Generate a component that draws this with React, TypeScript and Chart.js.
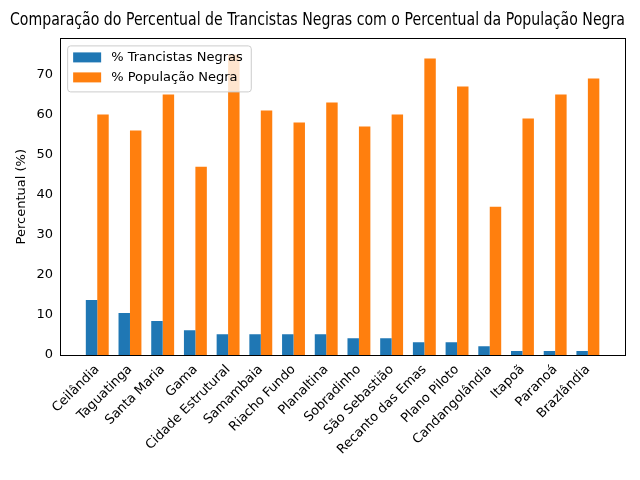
import React, { useEffect, useRef } from "react";
import { Chart, registerables } from "chart.js";
Chart.register(...registerables);

const categories = ["Ceilândia","Taguatinga","Santa Maria","Gama","Cidade Estrutural","Samambaia","Riacho Fundo","Planaltina","Sobradinho","São Sebastião","Recanto das Emas","Plano Piloto","Candangolândia","Itapoã","Paranoá","Brazlândia"];
const trancistas = [13.7,10.5,8.5,6.2,5.2,5.2,5.2,5.2,4.2,4.2,3.2,3.2,2.2,1.0,1.0,1.0];
const populacao = [60,56,65,47,75,61,58,63,57,60,74,67,37,59,65,69];
const yTicks = [0,10,20,30,40,50,60,70];
const seriesNames = ["% Trancistas Negras","% População Negra"];
const colors = ["#1f77b4","#ff7f0e"];
const FONT = "'DejaVu Sans', sans-serif";

const framePlugin = {
  id: "frame",
  afterDraw(chart: any) {
    const { ctx, chartArea: a } = chart;
    ctx.save();
    ctx.strokeStyle = "#000"; ctx.lineWidth = 1;
    ctx.strokeRect(Math.round(a.left) + 0.5, Math.round(a.top) + 0.5, Math.round(a.right - a.left), Math.round(a.bottom - a.top));
    const x0 = a.left + 7, y0 = a.top + 7;
    ctx.font = `13px ${FONT}`;
    const w = Math.max(...seriesNames.map((s) => ctx.measureText(s).width)) + 52;
    ctx.fillStyle = "rgba(255,255,255,0.8)";
    ctx.strokeStyle = "#ccc";
    ctx.beginPath(); ctx.roundRect(x0 + 0.5, y0 + 0.5, w, 46, 3); ctx.fill(); ctx.stroke();
    seriesNames.forEach((s, i) => {
      const yy = y0 + 7 + i * 20;
      ctx.fillStyle = colors[i];
      ctx.fillRect(x0 + 6, yy, 28, 10);
      ctx.fillStyle = "#000"; ctx.textBaseline = "middle"; ctx.textAlign = "left";
      ctx.fillText(s, x0 + 44, yy + 5);
    });
    ctx.restore();
  },
};

export default function App() {
  const ref = useRef<HTMLCanvasElement>(null);
  useEffect(() => {
    const chart = new Chart(ref.current!, {
      type: "bar",
      data: {
        datasets: [
          { label: seriesNames[0], data: trancistas.map((y, i) => ({ x: i, y })), backgroundColor: colors[0] },
          { label: seriesNames[1], data: populacao.map((y, i) => ({ x: i, y })), backgroundColor: colors[1] },
        ],
      },
      options: {
        animation: false, responsive: false,
        datasets: { bar: { categoryPercentage: 0.7, barPercentage: 1 } } as any,
        layout: { padding: { top: 0, right: 15, left: 10, bottom: 0 } },
        plugins: {
          legend: { display: false },
          tooltip: { enabled: false },
          title: { display: true, text: "Comparação do Percentual de Trancistas Negras com o Percentual da População Negra", color: "#000", font: { family: FONT, size: 17, weight: "normal" }, padding: { top: 10, bottom: 8 } },
        },
        scales: {
          x: {
            type: "linear", min: -1.135, max: 16.135, offset: false,
            grid: { display: false, tickLength: 4 } as any,
            border: { color: "#000" },
            afterBuildTicks: (s: any) => { s.ticks = categories.map((_, i) => ({ value: i })); },
            afterFit: (s: any) => { s.height = 125; },
            ticks: { autoSkip: false, maxRotation: 45, minRotation: 45, color: "#000", font: { family: FONT, size: 13 }, callback: (v: any) => categories[v] ?? "" },
          },
          y: {
            min: 0, max: 79,
            grid: { display: false, tickLength: 4 } as any,
            border: { color: "#000" },
            afterBuildTicks: (s: any) => { s.ticks = yTicks.map((v) => ({ value: v })); },
            ticks: { color: "#000", font: { family: FONT, size: 13 } },
            title: { display: true, text: "Percentual (%)", color: "#000", font: { family: FONT, size: 13 } },
          },
        },
      },
      plugins: [framePlugin],
    });
    return () => chart.destroy();
  }, []);
  return (
    <div style={{ position: "absolute", left: 0, top: 0, width: 640, height: 480, background: "#fff" }}>
      <canvas ref={ref} width={640} height={480} style={{ width: 640, height: 480 }} />
    </div>
  );
}
